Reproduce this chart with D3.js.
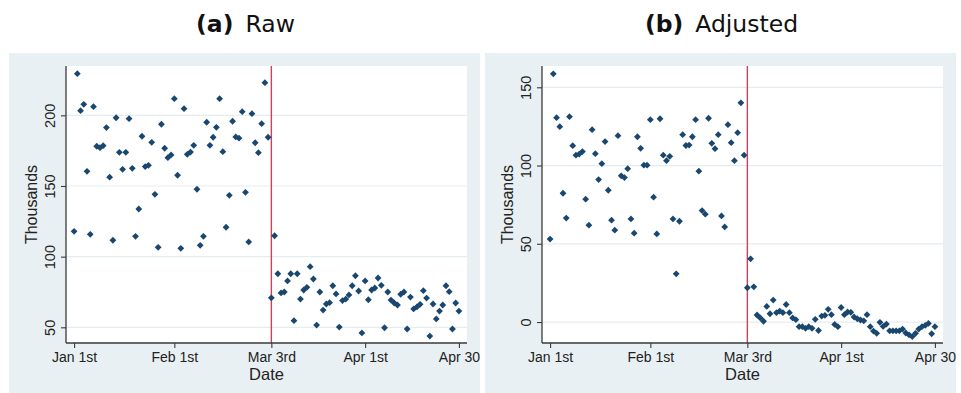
<!DOCTYPE html>
<html>
<head>
<meta charset="utf-8">
<script src="https://cdn.jsdelivr.net/npm/d3@7"></script>
<style>
  body { margin: 0; background: #ffffff; }
  svg { display: block; }
</style>
</head>
<body>
<svg id="chart" width="961" height="393"></svg>
<script>
// Daily observations, Jan 1 through Apr 30 (thousands)
const days = d3.timeDay.range(new Date(2019, 0, 1), new Date(2019, 4, 1));

const rawValues = [
  117.9, 229.5, 203.3, 207.8, 160.4, 115.8, 206.1, 178.1, 177.1, 178.5,
  191.3, 156.2, 111.6, 198.3, 173.8, 161.8, 173.8, 197.6, 162.5, 114.4,
  133.7, 185.2, 163.7, 164.6, 180.9, 144.1, 106.6, 193.7, 176.7, 170.0,
  172.0, 211.8, 157.6, 105.9, 204.7, 172.4, 174.0, 178.8, 147.7, 108.0,
  114.4, 195.1, 178.8, 184.5, 191.5, 211.8, 174.3, 120.8, 143.4, 195.8,
  184.7, 183.8, 202.6, 145.5, 110.4, 201.2, 180.6, 173.6, 194.1, 223.1,
  184.5, 70.9, 114.8, 87.9, 74.3, 75.0, 82.8, 87.9, 54.7, 87.9,
  70.0, 76.4, 78.3, 92.9, 84.2, 51.6, 75.0, 62.2, 66.5, 67.4,
  79.4, 73.6, 50.2, 68.9, 70.0, 72.9, 79.4, 86.5, 75.7, 46.0,
  82.8, 69.5, 76.4, 77.8, 84.9, 79.7, 49.7, 75.0, 69.3, 67.2,
  65.8, 73.4, 75.0, 48.8, 71.4, 63.0, 64.4, 66.3, 75.9, 70.7,
  43.8, 66.5, 55.9, 61.5, 65.8, 79.4, 75.2, 48.8, 67.2, 61.5
];

const adjustedValues = [
  53.0, 158.6, 130.6, 124.8, 82.3, 66.4, 131.2, 112.7, 106.6, 107.3,
  108.9, 78.5, 61.9, 122.9, 107.6, 91.0, 101.2, 115.3, 84.2, 65.1,
  58.7, 119.1, 93.4, 92.3, 98.0, 65.9, 56.8, 118.4, 111.0, 100.2,
  100.2, 129.3, 79.8, 56.3, 129.9, 106.6, 103.1, 105.9, 65.9, 30.8,
  64.4, 119.7, 112.8, 113.1, 118.4, 129.3, 96.4, 71.2, 68.9, 130.2,
  114.2, 110.8, 119.7, 67.8, 60.8, 126.1, 114.6, 103.1, 121.0, 140.1,
  106.6, 21.9, 40.4, 22.5, 4.5, 2.6, 0.5, 10.0, 5.3, 14.0,
  6.0, 7.0, 6.0, 11.2, 6.0, 2.6, 1.5, -3.0, -3.0, -4.0,
  -3.0, -4.0, 1.7, -5.4, 3.8, 4.3, 8.1, 4.7, -1.5, -3.0,
  9.3, 4.7, 6.4, 6.2, 3.2, 2.1, 1.3, 0.8, 4.7, -3.0,
  -5.8, -7.2, -0.2, -2.8, -1.3, -5.6, -5.6, -5.6, -5.6, -4.5,
  -7.0, -8.2, -9.3, -7.2, -4.5, -3.0, -2.2, -0.9, -7.5, -3.0
];

const eventDate = new Date(2019, 2, 3);
const xTickDates = [new Date(2019, 0, 1), new Date(2019, 1, 1), new Date(2019, 2, 3), new Date(2019, 3, 1), new Date(2019, 3, 30)];
const xTickLabels = ["Jan 1st", "Feb 1st", "Mar 3rd", "Apr 1st", "Apr 30"];
const rawTicks = [50, 100, 150, 200];
const adjustedTicks = [0, 50, 100, 150];
const panelTags = ["(a)", "(b)"];
const panelNames = ["Raw", "Adjusted"];
const yTitle = "Thousands";
const xTitle = "Date";

const COLORS = {
  region: "#e9f0f3",
  grid: "#e6edf0",
  axis: "#3a3a3a",
  text: "#222222",
  marker: "#1a476f",
  event: "#c8435f"
};
const FONT = "'Liberation Sans', Arial, sans-serif";
const TITLE_FONT = "'DejaVu Sans', sans-serif";

const svg = d3.select("#chart");

const panels = [
  { tag: panelTags[0], name: panelNames[0], values: rawValues, ticks: rawTicks,
    yDomain: [38.9, 234.9], box: { x: 9, w: 471 }, plot: { l: 66, r: 467 } },
  { tag: panelTags[1], name: panelNames[1], values: adjustedValues, ticks: adjustedTicks,
    yDomain: [-13.4, 163.6], box: { x: 485, w: 471 }, plot: { l: 542, r: 943 } }
];

const plotTop = 66, plotBottom = 343;
const xPad = 2.5 * 864e5; // margin of two and a half days inside the plot region

panels.forEach((p, i) => {
  const g = svg.append("g");

  // clip each panel to its own graph region
  const clipId = "clip" + i;
  svg.append("clipPath").attr("id", clipId)
    .append("rect").attr("x", p.box.x).attr("y", 0).attr("width", p.box.w).attr("height", 393);
  g.attr("clip-path", `url(#${clipId})`);

  g.append("rect")
    .attr("x", p.box.x).attr("y", 53)
    .attr("width", p.box.w).attr("height", 340)
    .attr("fill", COLORS.region);

  g.append("rect")
    .attr("x", p.plot.l).attr("y", plotTop)
    .attr("width", p.plot.r - p.plot.l).attr("height", plotBottom - plotTop)
    .attr("fill", "#ffffff");

  const x = d3.scaleTime()
    .domain([new Date(+days[0] - xPad), new Date(+days[days.length - 1] + xPad)])
    .range([p.plot.l, p.plot.r]);
  const y = d3.scaleLinear().domain(p.yDomain).range([plotBottom, plotTop]);

  // horizontal grid
  g.append("g").selectAll("line").data(p.ticks).join("line")
    .attr("x1", p.plot.l).attr("x2", p.plot.r)
    .attr("y1", d => y(d)).attr("y2", d => y(d))
    .attr("stroke", COLORS.grid).attr("stroke-width", 1.2);

  // event marker
  g.append("line")
    .attr("x1", x(eventDate)).attr("x2", x(eventDate))
    .attr("y1", plotTop).attr("y2", plotBottom)
    .attr("stroke", COLORS.event).attr("stroke-width", 1.4);

  // scatter of daily values
  const r = 3.4;
  const diamond = `M0,${-r}L${r},0L0,${r}L${-r},0Z`;
  g.append("g").selectAll("path").data(days).join("path")
    .attr("d", diamond)
    .attr("transform", (d, k) => `translate(${x(d)},${y(p.values[k])})`)
    .attr("fill", COLORS.marker);

  // y axis
  const yAxis = d3.axisLeft(y).tickValues(p.ticks).tickSize(5).tickPadding(4);
  const ya = g.append("g").attr("transform", `translate(${p.plot.l},0)`).call(yAxis);
  ya.select(".domain").attr("d", `M0,${plotTop}V${plotBottom}`).attr("stroke", COLORS.axis).attr("stroke-width", 1.3);
  ya.selectAll(".tick line").attr("stroke", COLORS.axis).attr("stroke-width", 1.1);
  ya.selectAll(".tick text")
    .attr("x", null).attr("dy", null)
    .attr("transform", "translate(-11,0) rotate(-90)")
    .attr("text-anchor", "middle")
    .attr("fill", COLORS.text)
    .style("font", `14.5px ${FONT}`);

  // x axis
  const xAxis = d3.axisBottom(x).tickValues(xTickDates)
    .tickFormat((d, k) => xTickLabels[k]).tickSize(5).tickPadding(4);
  const xa = g.append("g").attr("transform", `translate(0,${plotBottom})`).call(xAxis);
  xa.select(".domain").attr("d", `M${p.plot.l},0H${p.plot.r}`).attr("stroke", COLORS.axis).attr("stroke-width", 1.3);
  xa.selectAll(".tick line").attr("stroke", COLORS.axis).attr("stroke-width", 1.1);
  xa.selectAll(".tick text")
    .attr("y", 19).attr("dy", null)
    .attr("fill", COLORS.text)
    .style("font", `14px ${FONT}`);

  // axis titles
  g.append("text")
    .attr("transform", `translate(${p.plot.l - 29},${(plotTop + plotBottom) / 2}) rotate(-90)`)
    .attr("text-anchor", "middle")
    .attr("fill", COLORS.text)
    .style("font", `16px ${FONT}`)
    .text(yTitle);
  g.append("text")
    .attr("x", (p.plot.l + p.plot.r) / 2).attr("y", 380)
    .attr("text-anchor", "middle")
    .attr("fill", COLORS.text)
    .style("font", `16.5px ${FONT}`)
    .text(xTitle);

  // subfigure caption
  const cap = svg.append("text")
    .attr("x", p.box.x + p.box.w / 2 + 1).attr("y", 32)
    .attr("text-anchor", "middle")
    .attr("fill", "#111111")
    .style("font-family", TITLE_FONT)
    .style("font-size", "23.5px");
  cap.append("tspan").attr("font-weight", "bold").text(p.tag);
  cap.append("tspan").attr("dx", 12).text(p.name);
});
</script>
</body>
</html>
